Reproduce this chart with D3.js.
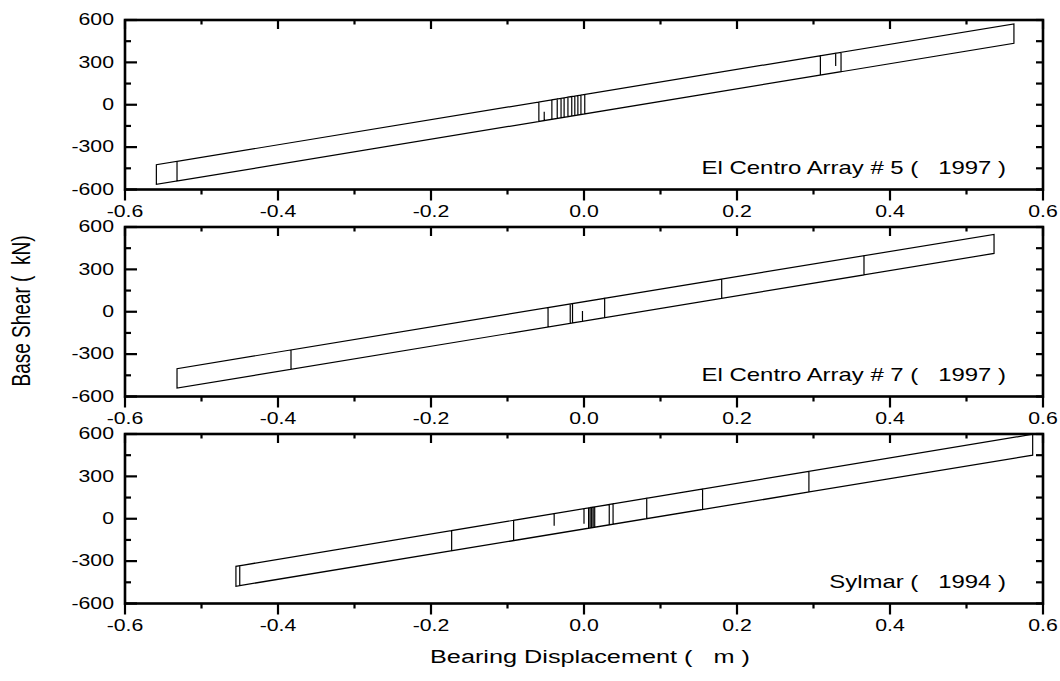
<!DOCTYPE html>
<html>
<head>
<meta charset="utf-8">
<script src="https://cdn.jsdelivr.net/npm/d3@7"></script>
<style>
  html, body { margin: 0; padding: 0; background: #fff; }
  svg text { font-family: "Liberation Sans", Arial, sans-serif; fill: #000; white-space: pre; }
</style>
</head>
<body>
<svg id="chart" width="1060" height="681"></svg>
<script>
// Axis ranges and tick marks shared by the three panels
const xDomain = [-0.6, 0.6];
const yDomain = [-600, 600];
const xMajorTicks = [-0.6, -0.4, -0.2, 0.0, 0.2, 0.4, 0.6];
const xTickLabels = ["-0.6", "-0.4", "-0.2", "0.0", "0.2", "0.4", "0.6"];
const xMinorTicks = [-0.5, -0.3, -0.1, 0.1, 0.3, 0.5];
const yMajorTicks = [-600, -300, 0, 300, 600];
const yTickLabels = ["-600", "-300", "0", "300", "600"];
const yMinorTicks = [-450, -150, 150, 450];

// Record names shown inside each panel
const recordNames = [
  "El Centro Array # 5 (   1997 )",
  "El Centro Array # 7 (   1997 )",
  "Sylmar (   1994 )"
];

// Hysteresis traces: [bearing displacement (m), base shear (kN)]
const elCentro5Loop = [
  [-0.004, -69], [-0.004, 69], [0.001, 73], [0.001, -65],
  [-0.012, -77], [-0.012, 62], [-0.008, 65], [-0.008, -73],
  [-0.021, -85], [-0.021, 54], [-0.016, 58], [-0.016, -80],
  [-0.030, -93], [-0.030, 46], [-0.026, 49], [-0.026, -89],
  [-0.042, -103], [-0.042, 35], [-0.035, 41], [-0.035, -97],
  [-0.052, -112], [-0.052, -50], [-0.052, -112],
  [-0.059, -118], [-0.059, 20],
  [0.329, 365], [0.329, 275], [0.329, 365],
  [0.562, 572], [0.562, 435],
  [-0.559, -564], [-0.559, -425],
  [0.336, 371], [0.336, 234],
  [-0.532, -540], [-0.532, -401],
  [0.309, 347], [0.309, 210],
  [-0.059, -118]
];

const elCentro7Loop = [
  [-0.002, -68], [-0.002, 5], [-0.002, -68],
  [-0.015, -79], [-0.015, 57], [0.027, 95], [0.027, -42],
  [-0.018, -82], [-0.018, 55], [0.180, 231], [0.180, 95],
  [-0.047, -108], [-0.047, 29], [0.366, 397], [0.366, 261],
  [-0.383, -408], [-0.383, -270], [0.536, 548], [0.536, 413],
  [-0.532, -541], [-0.532, -403], [0.000, 71]
];

const sylmarLoop = [
  [-0.039, -50], [-0.039, 36], [0.000, 71], [0.000, -35], [0.000, 71],
  [0.010, 80], [0.010, -64], [0.006, -67], [0.006, 77],
  [0.014, 84], [0.014, -60], [0.008, -66], [0.008, 79],
  [0.033, 100], [0.033, -44], [0.012, -62], [0.012, 82],
  [0.038, 106], [0.038, -39], [-0.092, -155], [-0.092, -11],
  [0.082, 145], [0.082, 1], [-0.173, -227], [-0.173, -84],
  [0.155, 211], [0.155, 66], [-0.450, -473], [-0.450, -332],
  [0.294, 335], [0.294, 189], [-0.455, -478], [-0.455, -337],
  [0.5865, 598], [0.5865, 450], [0.014, -60]
];

const loops = [elCentro5Loop, elCentro7Loop, sylmarLoop];

// Layout
const plotLeft = 125, plotRight = 1043;
const panelTops = [20, 227, 434];
const panelHeight = 169.5;
const textStretch = 1.33;   // glyphs are drawn wide
const tickFont = 16, noteFont = 18, titleFont = 19;

const svg = d3.select("#chart");

const x = d3.scaleLinear().domain(xDomain).range([plotLeft, plotRight]);

function stretchText(sel) {
  sel.each(function () {
    const t = d3.select(this);
    const tx = +t.attr("x") || 0;
    t.attr("x", tx / textStretch)
     .attr("transform", `scale(${textStretch},1)`);
  });
}

loops.forEach((loop, i) => {
  const top = panelTops[i], bottom = top + panelHeight;
  const y = d3.scaleLinear().domain(yDomain).range([bottom, top]);
  const g = svg.append("g");

  // data trace
  const line = d3.line().x(d => x(d[0])).y(d => y(d[1]));
  g.append("path")
    .datum(loop)
    .attr("d", line)
    .attr("fill", "none")
    .attr("stroke", "#000")
    .attr("stroke-width", 1.2)
    .attr("stroke-linejoin", "miter");

  // bottom axis: outward ticks with labels
  const bMaj = g.append("g").attr("transform", `translate(0,${bottom})`)
    .call(d3.axisBottom(x).offset(0).tickValues(xMajorTicks)
      .tickFormat((d, k) => xTickLabels[k]).tickSize(11).tickSizeOuter(0).tickPadding(5.5));
  const bMin = g.append("g").attr("transform", `translate(0,${bottom})`)
    .call(d3.axisBottom(x).offset(0).tickValues(xMinorTicks).tickFormat("").tickSize(5).tickSizeOuter(0));

  // top axis: inward ticks
  const tMaj = g.append("g").attr("transform", `translate(0,${top})`)
    .call(d3.axisTop(x).offset(0).tickValues(xMajorTicks).tickFormat("").tickSize(-9).tickSizeOuter(0));
  const tMin = g.append("g").attr("transform", `translate(0,${top})`)
    .call(d3.axisTop(x).offset(0).tickValues(xMinorTicks).tickFormat("").tickSize(-4.5).tickSizeOuter(0));

  // left axis: inward ticks with labels
  const lMaj = g.append("g").attr("transform", `translate(${plotLeft},0)`)
    .call(d3.axisLeft(y).offset(0).tickValues(yMajorTicks)
      .tickFormat((d, k) => yTickLabels[k]).tickSize(-12).tickSizeOuter(0).tickPadding(11));
  const lMin = g.append("g").attr("transform", `translate(${plotLeft},0)`)
    .call(d3.axisLeft(y).offset(0).tickValues(yMinorTicks).tickFormat("").tickSize(-6).tickSizeOuter(0));

  // right axis: inward ticks
  const rMaj = g.append("g").attr("transform", `translate(${plotRight},0)`)
    .call(d3.axisRight(y).offset(0).tickValues(yMajorTicks.concat(yMinorTicks)).tickFormat("").tickSize(-7).tickSizeOuter(0));

  [bMaj, bMin, tMaj, tMin, lMaj, lMin, rMaj].forEach(a => {
    a.select(".domain").remove();
    a.selectAll(".tick line").attr("stroke", "#000").attr("stroke-width", 2.2);
    a.selectAll(".tick text")
      .attr("font-size", tickFont)
      .attr("font-family", "Liberation Sans, Arial, sans-serif")
      .attr("fill", "#000");
  });
  stretchText(bMaj.selectAll(".tick text"));
  stretchText(lMaj.selectAll(".tick text"));

  // frame
  g.append("rect")
    .attr("x", plotLeft).attr("y", top)
    .attr("width", plotRight - plotLeft).attr("height", panelHeight)
    .attr("fill", "none").attr("stroke", "#000").attr("stroke-width", 2.6);

  // record name
  g.append("text")
    .attr("transform", `translate(1006,${bottom - 16}) scale(${textStretch},1)`)
    .attr("text-anchor", "end")
    .attr("font-size", noteFont)
    .text(recordNames[i]);
});

// axis titles
svg.append("text")
  .attr("transform", `translate(590,663) scale(${textStretch},1)`)
  .attr("text-anchor", "middle")
  .attr("font-size", titleFont)
  .text("Bearing Displacement (   m )");

svg.append("text")
  .attr("transform", `translate(30,311) scale(${textStretch},1) rotate(-90)`)
  .attr("text-anchor", "middle")
  .attr("font-size", titleFont)
  .text("Base Shear (  kN)");
</script>
</body>
</html>
